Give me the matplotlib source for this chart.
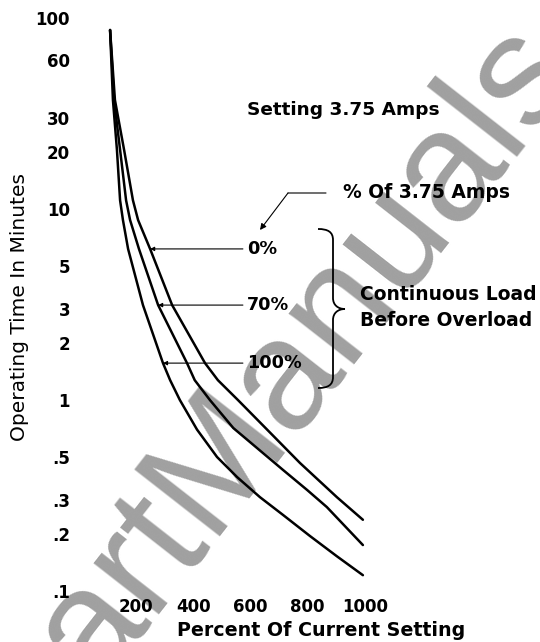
import matplotlib
matplotlib.use("Agg")
import matplotlib.pyplot as plt
from matplotlib.path import Path
from matplotlib.patches import PathPatch

# Dados (percentual da corrente x minutos)
pct_0 = [109, 126, 158, 189, 207, 249, 326, 441, 486, 556, 658, 773, 902, 993]
min_0 = [86.5, 37.2, 20.4, 11.1, 8.75, 6.18, 3.14, 1.56, 1.27, 1.0, 0.70, 0.468, 0.31, 0.236]

pct_70 = [109, 123, 144, 165, 179, 210, 277, 378, 405, 458, 540, 714, 798, 867, 993]
min_70 = [86.5, 37.2, 20.4, 11.1, 8.75, 6.18, 3.14, 1.56, 1.27, 1.0, 0.713, 0.43, 0.338, 0.275, 0.174]

pct_100 = [109, 119, 133, 144, 154, 172, 224, 294, 319, 353, 413, 483, 553, 633, 714, 808, 902, 993]
min_100 = [86.5, 37.2, 20.4, 11.1, 8.75, 6.18, 3.14, 1.56, 1.27, 1.0, 0.70, 0.503, 0.395, 0.31,
           0.25, 0.194, 0.152, 0.121]

y_ticks = [0.1, 0.2, 0.3, 0.5, 1, 2, 3, 5, 10, 20, 30, 60, 100]
y_labels = ['.1', '.2', '.3', '.5', '1', '2', '3', '5', '10', '20', '30', '60', '100']
x_ticks = [200, 400, 600, 800, 1000]

plt.rcParams['font.family'] = ['DejaVu Sans']

W, H = 540, 642
fig = plt.figure(figsize=(W / 100, H / 100), dpi=100)
ax = fig.add_axes([107.5 / W, (H - 591) / H, 271.7 / W, 573 / H])


def px(x, y):
    # pixel da imagem (y para baixo) -> fração da figura
    return (x / W, 1 - y / H)


# Marca d'água (atrás de tudo)
fig.text(*px(233, 445), 'SmartManuals', rotation=52, rotation_mode='anchor',
         ha='center', va='center', fontsize=114, color='#a0a0a0', zorder=-1,
         family='Liberation Sans')

# Curvas
for p, m in [(pct_0, min_0), (pct_70, min_70), (pct_100, min_100)]:
    ax.plot(p, m, color='black', lw=1.8, solid_capstyle='round',
            solid_joinstyle='round', zorder=3)

ax.set_yscale('log')
ax.set_xlim(100, 1050)
ax.set_ylim(0.1, 100)
ax.patch.set_alpha(0)
for s in ax.spines.values():
    s.set_visible(False)

ax.set_yticks(y_ticks)
ax.set_yticklabels(y_labels, fontsize=12, fontweight='bold')
ax.yaxis.set_minor_locator(matplotlib.ticker.NullLocator())
ax.set_xticks(x_ticks)
ax.set_xticklabels([str(v) for v in x_ticks], fontsize=12, fontweight='bold')
ax.tick_params(axis='y', length=0, pad=27)
ax.tick_params(axis='x', length=0, pad=5)

fig.text(*px(20, 307), 'Operating Time In Minutes', rotation=90,
         ha='center', va='center', fontsize=14.5)
fig.text(*px(321, 630), 'Percent Of Current Setting', ha='center', va='center',
         fontsize=13.7, fontweight='bold')

fig.text(*px(247, 110), 'Setting 3.75 Amps', ha='left', va='center',
         fontsize=13.3, fontweight='bold')
fig.text(*px(343, 192), '% Of 3.75 Amps', ha='left', va='center',
         fontsize=13.5, fontweight='bold')
fig.text(*px(360, 295), 'Continuous Load', ha='left', va='center',
         fontsize=13.5, fontweight='bold')
fig.text(*px(360, 320), 'Before Overload', ha='left', va='center',
         fontsize=13.5, fontweight='bold')

# Seta do "% Of 3.75 Amps"
ax.annotate('', xy=px(288, 193), xycoords='figure fraction',
            xytext=px(326, 193), textcoords='figure fraction',
            arrowprops=dict(arrowstyle='-', lw=0.8, color='black',
                            shrinkA=0, shrinkB=0))
ax.annotate('', xy=px(260, 230), xycoords='figure fraction',
            xytext=px(288, 193), textcoords='figure fraction',
            arrowprops=dict(arrowstyle='-|>', lw=0.8, color='black',
                            shrinkA=0, shrinkB=0, mutation_scale=9))

# Rótulos das curvas com linhas de chamada
for label, p, m, i in [('0%', pct_0, min_0, 5), ('70%', pct_70, min_70, 6),
                       ('100%', pct_100, min_100, 7)]:
    ax.annotate(label, xy=(p[i], m[i]), xytext=(588, m[i]),
                ha='left', va='center', fontsize=12.7, fontweight='bold',
                arrowprops=dict(arrowstyle='-|>', lw=0.8, color='black',
                                shrinkA=1, shrinkB=0, mutation_scale=6))

# Chave
verts = [(318, 229), (328, 229), (333, 232), (333, 240),
         (333, 298),
         (333, 305), (338, 309), (345, 309),
         (338, 309), (333, 313), (333, 320),
         (333, 377),
         (333, 385), (328, 388), (318, 388)]
codes = [Path.MOVETO, Path.CURVE4, Path.CURVE4, Path.CURVE4,
         Path.LINETO,
         Path.CURVE4, Path.CURVE4, Path.CURVE4,
         Path.CURVE4, Path.CURVE4, Path.CURVE4,
         Path.LINETO,
         Path.CURVE4, Path.CURVE4, Path.CURVE4]
brace = Path([px(x, y) for x, y in verts], codes)
fig.add_artist(PathPatch(brace, transform=fig.transFigure, fill=False,
                         lw=1.3, color='black'))

fig.savefig('out.png', dpi=100, facecolor='white')
